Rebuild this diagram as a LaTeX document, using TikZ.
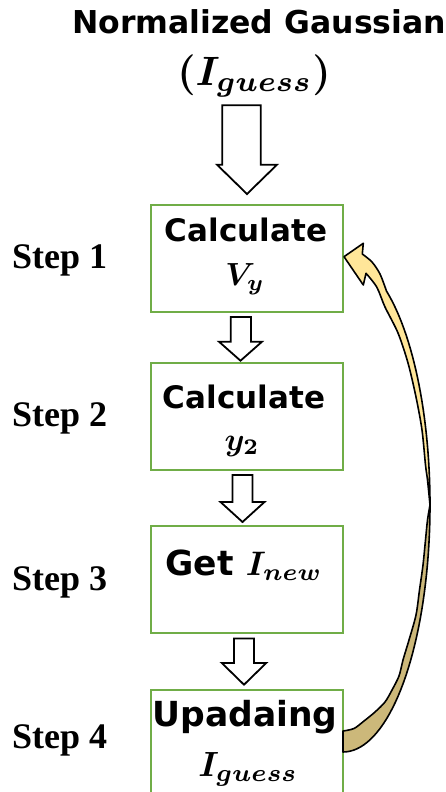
\documentclass[tikz,border=0pt]{standalone}
\usepackage{amsmath}
\usepackage{bm}
\usepackage{graphicx}
\usepackage{fontspec}
\setmainfont{Liberation Serif}
\newfontfamily\hdfont{DejaVu Sans}
\usetikzlibrary{calc}
\definecolor{boxgreen}{RGB}{112,173,71}
\definecolor{ylight}{RGB}{255,230,153}
\definecolor{ydark}{RGB}{204,184,122}
\newcommand\bmath[2]{\scalebox{#1}{\fontsize{10}{12}\selectfont$\bm{#2}$}}
\tikzset{
  stepbox/.style={draw=boxgreen, line width=2pt, minimum width=192pt, minimum height=107pt, inner sep=0pt},
  hdtxt/.style={font=\hdfont\bfseries\fontsize{31}{37}\selectfont, inner sep=0pt, anchor=base},
  hdbig/.style={font=\hdfont\bfseries\fontsize{34.5}{40}\selectfont, inner sep=0pt, anchor=base},
  steplabel/.style={font=\bfseries\fontsize{36}{42}\selectfont, inner sep=0pt, anchor=base west},
  blockarrow/.style={draw=black, fill=white, line width=1.8pt, line join=miter},
  curvearrow/.style={draw=black, line width=1.6pt, line join=round}
}
\newcommand\hollowarrow[6]{%
  \draw[blockarrow] let \p1=(#1), \p2=(#2) in
    ({\x2+(#3)*1pt},\y1) -- ({\x2+(#4)*1pt},\y1) -- ({\x2+(#4)*1pt},{\y2+(#6)*1pt})
    -- ({\x2+(#5)*1pt},{\y2+(#6)*1pt}) -- (\p2) -- ({\x2-(#5)*1pt},{\y2+(#6)*1pt})
    -- ({\x2+(#3)*1pt},{\y2+(#6)*1pt}) -- cycle;}
\begin{document}
\begin{tikzpicture}[x=1pt,y=-1pt]
\useasboundingbox (0,0) rectangle (446,792);
% title
\node[hdtxt, font=\hdfont\bfseries\fontsize{31.5}{37}\selectfont] (t0a) at (259,33.3) {Normalized Gaussian};
\node[hdtxt] (t0b) at (254,85) {\bmath{4.1}{(I_{guess})}};
% boxes
\node[stepbox] (b1) at (247,258.5) {};
\node[stepbox] (b2) at (247,416.5) {};
\node[stepbox] (b3) at (247,579.5) {};
\node[stepbox] (b4) at (247,743.5) {};
% box texts
\node[hdtxt] (t1a) at (246,241.5) {Calculate};
\node[hdtxt] (t1b) at (245,285.5) {\bmath{3.2}{V_y}};
\node[hdtxt] (t2a) at (244,408.7) {Calculate};
\node[hdtxt] (t2b) at (242,450) {\bmath{3.2}{y_2}};
\node[hdbig] (t3a) at (244,575) {Get \bmath{3.4}{I_{new}}};
\node[hdbig] (t4a) at (245,726.7) {Upadaing};
\node[hdbig] (t4b) at (248,776.7) {\bmath{3.5}{I_{guess}}};
% step labels
\node[steplabel] (s1) at (12,268) {Step 1};
\node[steplabel] (s2) at (12,426) {Step 2};
\node[steplabel] (s3) at (12,590) {Step 3};
\node[steplabel] (s4) at (12,748) {Step 4};
% block arrows
\coordinate (a0s) at ([yshift=-20.3pt]t0b.base);
\coordinate (a0e) at ([yshift=10pt]b1.north);
\hollowarrow{a0s}{a0e}{-24.7}{13.7}{30}{29.3}
\coordinate (a1s) at ([yshift=-4pt]b1.south);
\coordinate (a1e) at ([xshift=-6.5pt,yshift=1.3pt]b2.north);
\hollowarrow{a1s}{a1e}{-9.8}{10.5}{21.5}{19}
\coordinate (a2s) at ([yshift=-4pt]b2.south);
\coordinate (a2e) at ([xshift=-4.5pt,yshift=3pt]b3.north);
\hollowarrow{a2s}{a2e}{-10}{10}{22}{20}
\coordinate (a3s) at ([yshift=-4.5pt]b3.south);
\coordinate (a3e) at ([xshift=-3pt,yshift=4.3pt]b4.north);
\hollowarrow{a3s}{a3e}{-10}{10}{22.2}{21.7}
% curved feedback arrow from b4 to b1
\coordinate (ctip) at ([yshift=1.8pt]b1.east);
\coordinate (cbase) at (b4.east);
\filldraw[curvearrow, fill=ydark]
  plot[domain=0:-90, samples=40, variable=\t] ({343+87*cos(\t)},{505-247*sin(\t)})
  -- (343,731) -- plot[smooth] coordinates {(343,731) (354,728.5) (364,721) (375,712) (385,702) (392,690) (399,676) (403,660) (409,640) (416,615) (419.5,590) (423,565) (425.5,540) (427.5,520) (430,505)} -- cycle;
\filldraw[curvearrow, fill=ylight]
  (ctip) -- (363.3,243.3) -- (362.3,254)
  -- plot[smooth] coordinates {(362.3,254) (372,262) (380,274) (386.5,291.1)}
  -- plot[domain=60:0, samples=30, variable=\t] ({343+87*cos(\t)},{505-247*sin(\t)})
  -- plot[smooth] coordinates {(430,505) (427.5,480) (425.5,465) (422,430) (416,397) (408,363) (398,333) (385,307) (376.7,287) (366,273.3)}
  -- (363.3,285) -- cycle;
\end{tikzpicture}
\end{document}
